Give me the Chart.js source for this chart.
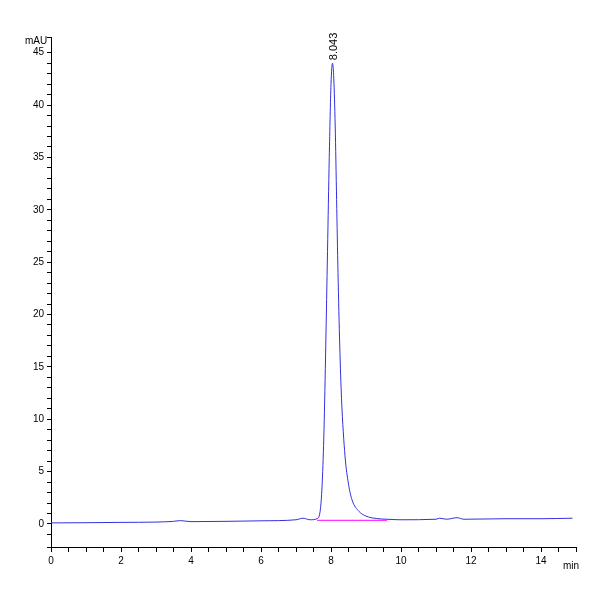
<!DOCTYPE html>
<html><head><meta charset="utf-8">
<script src="https://cdn.jsdelivr.net/npm/chart.js@4"></script>
<style>html,body{margin:0;background:#fff}#wrap{width:600px;height:600px}</style>
</head><body><div id="wrap"><canvas id="c"></canvas></div>
<script>
// chromatogram trace
const times  = [0, 1, 2, 3, 3.5, 3.7, 4, 5, 6, 7, 7.2, 7.4, 7.6, 7.7, 7.75, 7.8, 7.85, 7.9, 7.95, 8.0, 8.043, 8.08, 8.12, 8.16, 8.2, 8.25, 8.3, 8.4, 8.5, 8.6, 8.8, 9.0, 9.3, 9.6, 10, 11, 11.1, 11.3, 11.6, 11.8, 13, 14, 14.9];
const signal = [0.1, 0.12, 0.15, 0.18, 0.25, 0.32, 0.22, 0.25, 0.3, 0.4, 0.55, 0.4, 0.5, 1.5, 4, 9, 17, 26, 35, 42, 44, 42.5, 38, 31, 24, 17, 12, 6.5, 3.8, 2.3, 1.2, 0.75, 0.52, 0.45, 0.4, 0.45, 0.55, 0.45, 0.6, 0.45, 0.5, 0.5, 0.55];
const baseT  = [7.6, 9.6];
const baseV  = [0.35, 0.35];
const peakT  = 8.043, peakV = 44, peakLabel = '8.043';

const peakLabelPlugin = {
  id: 'peakLabel',
  afterDraw(chart) {
    const {ctx, scales: {x, y}} = chart;
    ctx.save();
    ctx.font = '11px "Liberation Sans", Arial';
    ctx.fillStyle = '#000';
    ctx.translate(x.getPixelForValue(peakT) + 4, y.getPixelForValue(peakV) - 3);
    ctx.rotate(-Math.PI / 2);
    ctx.fillText(peakLabel, 0, 0);
    ctx.restore();
    ctx.save();
    ctx.font = '10px "Liberation Sans", Arial';
    ctx.fillStyle = '#000';
    ctx.fillText('mAU', 25, 44);
    ctx.fillText('min', 563, 569);
    ctx.restore();
  }
};

new Chart(document.getElementById('c'), {
  type: 'line',
  data: {
    datasets: [
      { data: times.map((t, i) => ({x: t, y: signal[i]})), borderColor: '#3030e0', borderWidth: 1, pointRadius: 0, cubicInterpolationMode: 'monotone' },
      { data: baseT.map((t, i) => ({x: t, y: baseV[i]})), borderColor: '#ff00ff', borderWidth: 1, pointRadius: 0 },
    ]
  },
  options: {
    responsive: true, maintainAspectRatio: false, animation: false,
    layout: { padding: { top: 37, right: 24, bottom: 30, left: 0 } },
    plugins: { legend: { display: false }, tooltip: { enabled: false } },
    scales: {
      x: {
        type: 'linear', min: 0, max: 15,
        border: { color: '#000' },
        grid: { drawOnChartArea: false, color: '#000', tickLength: 5 },
        ticks: { stepSize: 0.5, autoSkip: false, maxRotation: 0, color: '#000', font: { size: 10, family: 'Liberation Sans' },
                 callback: v => (v % 2 === 0 && v < 15) ? v : '' }
      },
      y: {
        min: -2.2, max: 46.5,
        afterFit: s => { s.width = 51; },
        border: { color: '#000' },
        grid: { drawOnChartArea: false, color: '#000', tickLength: 4 },
        ticks: { stepSize: 1, autoSkip: false, color: '#000', font: { size: 10, family: 'Liberation Sans' },
                 callback: v => (v >= 0 && v % 5 === 0) ? v : '' }
      }
    }
  },
  plugins: [peakLabelPlugin]
});
</script></body></html>
